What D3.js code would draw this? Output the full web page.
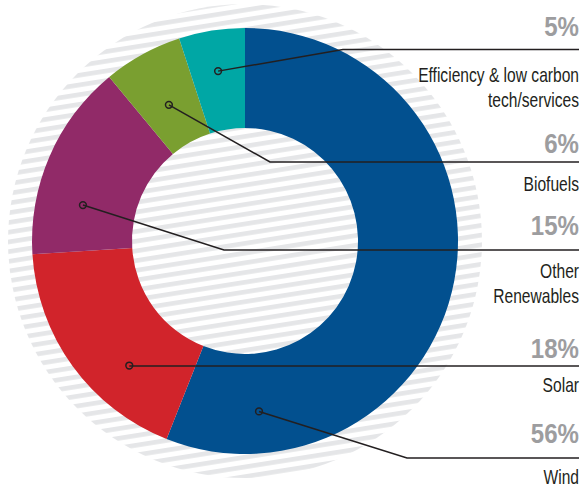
<!DOCTYPE html>
<html>
<head>
<meta charset="utf-8">
<script src="https://cdn.jsdelivr.net/npm/d3@7/dist/d3.min.js"></script>
<style>
  html, body { margin: 0; padding: 0; background: #ffffff; }
  svg { display: block; }
</style>
</head>
<body>
<svg id="chart" width="584" height="487"></svg>
<script>
// ---- Data ----
const categories = ["Wind", "Solar", "Other Renewables", "Biofuels", "Efficiency & low carbon tech/services"];
const values = [56, 18, 15, 6, 5];
const labelLines = [["Wind"], ["Solar"], ["Other", "Renewables"], ["Biofuels"], ["Efficiency & low carbon", "tech/services"]];
const percentLabels = ["56%", "18%", "15%", "6%", "5%"];
const colors = ["#02508f", "#d1242b", "#912a68", "#7a9f30", "#00a7a5"];

// ---- Leader-line layout ----
const markerAngleDeg = [175.3, 222.9, 282.5, 330.8, 351];
const markerRadius = [171, 170, 166, 156, 172];
const lineY = [458, 366, 250, 162, 49.5];
const bendX = [407, null, 224, 270, 343];
const pctBaseline = [443, 358, 235, 153, 36];
const labelBaseline = [484, 392, 278, 191, 82];

const W = 584, H = 487;
const cx = 245, cy = 241;
const rOuter = 213, rInner = 113, rBg = 237;
const rightX = 579;

const svg = d3.select("#chart");
const defs = svg.append("defs");
const pat = defs.append("pattern")
  .attr("id", "stripes")
  .attr("patternUnits", "userSpaceOnUse")
  .attr("width", 20).attr("height", 9.6)
  .attr("patternTransform", "rotate(-9)");
pat.append("rect").attr("x", 0).attr("y", 0).attr("width", 20).attr("height", 9.6).attr("fill", "#ffffff");
pat.append("rect").attr("x", 0).attr("y", 0).attr("width", 20).attr("height", 4.6).attr("fill", "#e5e6e8");

const g = svg.append("g").attr("transform", `translate(${cx},${cy})`);

// striped background disc
g.append("circle").attr("r", rBg).attr("fill", "url(#stripes)");

const pie = d3.pie().sort(null).value(d => d);
const arc = d3.arc().innerRadius(rInner).outerRadius(rOuter);
const arcs = pie(values);

g.selectAll("path.slice").data(arcs).join("path")
  .attr("class", "slice")
  .attr("d", arc)
  .attr("fill", (d, i) => colors[i]);

// leader lines
const lineColor = "#231f20";
arcs.forEach((d, i) => {
  const p = d3.pointRadial(markerAngleDeg[i] * Math.PI / 180, markerRadius[i]);
  const mx = cx + p[0], my = cy + p[1];
  const pts = [[mx, my]];
  if (bendX[i] !== null) pts.push([bendX[i], lineY[i]]);
  else pts[0] = [mx, lineY[i]];
  pts.push([rightX, lineY[i]]);
  svg.append("path")
    .attr("d", d3.line()(pts))
    .attr("fill", "none")
    .attr("stroke", lineColor)
    .attr("stroke-width", 1.5);
  svg.append("circle")
    .attr("cx", mx).attr("cy", my).attr("r", 3.4)
    .attr("fill", "none")
    .attr("stroke", lineColor)
    .attr("stroke-width", 1.5);
});

// labels (Liberation Sans horizontally condensed)
const fontFamily = "'Liberation Sans', Arial, sans-serif";
arcs.forEach((d, i) => {
  svg.append("text")
    .attr("transform", `translate(${rightX},${pctBaseline[i]}) scale(0.86,1)`)
    .attr("text-anchor", "end")
    .attr("font-family", fontFamily)
    .attr("font-weight", "bold")
    .attr("font-size", 28)
    .attr("fill", "#9d9d9f")
    .text(percentLabels[i]);
  labelLines[i].forEach((t, j) => {
    svg.append("text")
      .attr("transform", `translate(${rightX},${labelBaseline[i] + j * 25}) scale(0.78,1)`)
      .attr("text-anchor", "end")
      .attr("font-family", fontFamily)
      .attr("font-size", 20)
      .attr("fill", "#231f20")
      .text(t);
  });
});
</script>
</body>
</html>
